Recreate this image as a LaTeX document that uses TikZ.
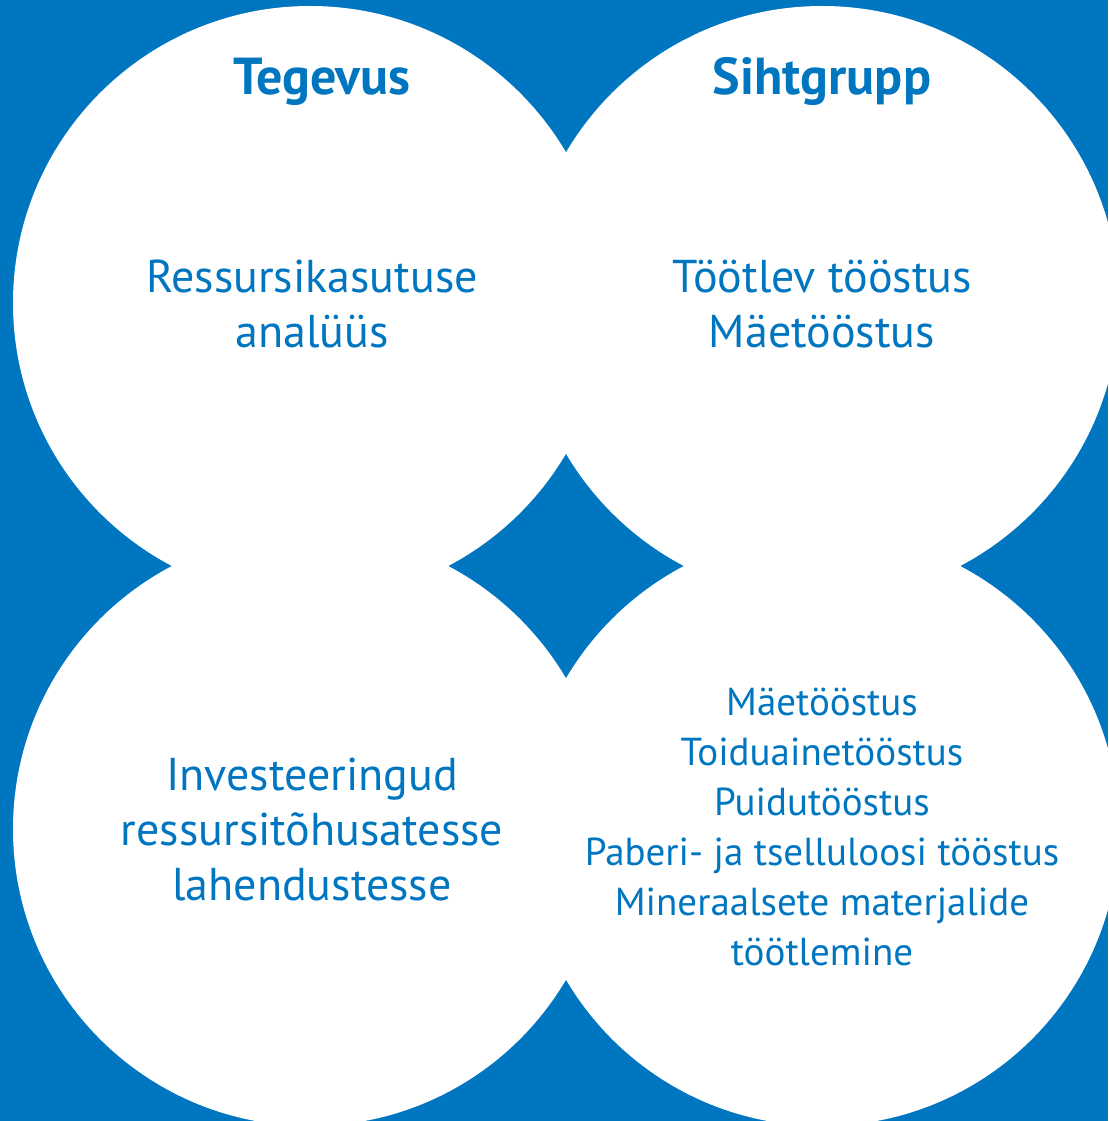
\documentclass[tikz,border=0pt]{standalone}
\usepackage{fontspec}
\setmainfont{PT Sans}
\usepackage{xcolor}
\usetikzlibrary{positioning}

\definecolor{skyblue}{RGB}{0,118,192}

\begin{document}
\begin{tikzpicture}[x=1pt, y=-1pt,
    petal/.style={fill=white, draw=none},
    heading/.style={text=skyblue, font={\fontsize{52}{60}\selectfont\bfseries}},
    body/.style={text=skyblue, align=center, font={\fontsize{46}{55}\selectfont}},
    smallbody/.style={text=skyblue, align=center, font={\fontsize{39}{50}\selectfont}}]
            % Background
            \fill[skyblue] (0,0) rectangle (1108,1121);
            \useasboundingbox (0,0) rectangle (1108,1121);
            \clip (0,0) rectangle (1108,1121);

            % Circles
            \fill[petal] (310,303) circle[radius=297];
            \fill[petal] (822,303) circle[radius=297];
            \fill[petal] (310,829) circle[radius=297];
            \fill[petal] (822,829) circle[radius=297];

            % Headings
            \node[heading, anchor=base] (activity) at (322,95) {Tegevus};
            \node[heading, anchor=base] (target) at (822,95) {Sihtgrupp};

            % Texts
            \node[body] (analysis) at (312,304) {Ressursikasutuse\\analüüs};
            \node[body] (industry) at (822,304) {Töötlev tööstus\\Mäetööstus};
            \node[body] (invest) at (312,829) {Investeeringud\\ressursitõhusatesse\\lahendustesse};
            \node[smallbody] (sectors) at (822,827) {Mäetööstus\\Toiduainetööstus\\Puidutööstus\\Paberi- ja tselluloosi tööstus\\Mineraalsete materjalide\\töötlemine};
\end{tikzpicture}
\end{document}
